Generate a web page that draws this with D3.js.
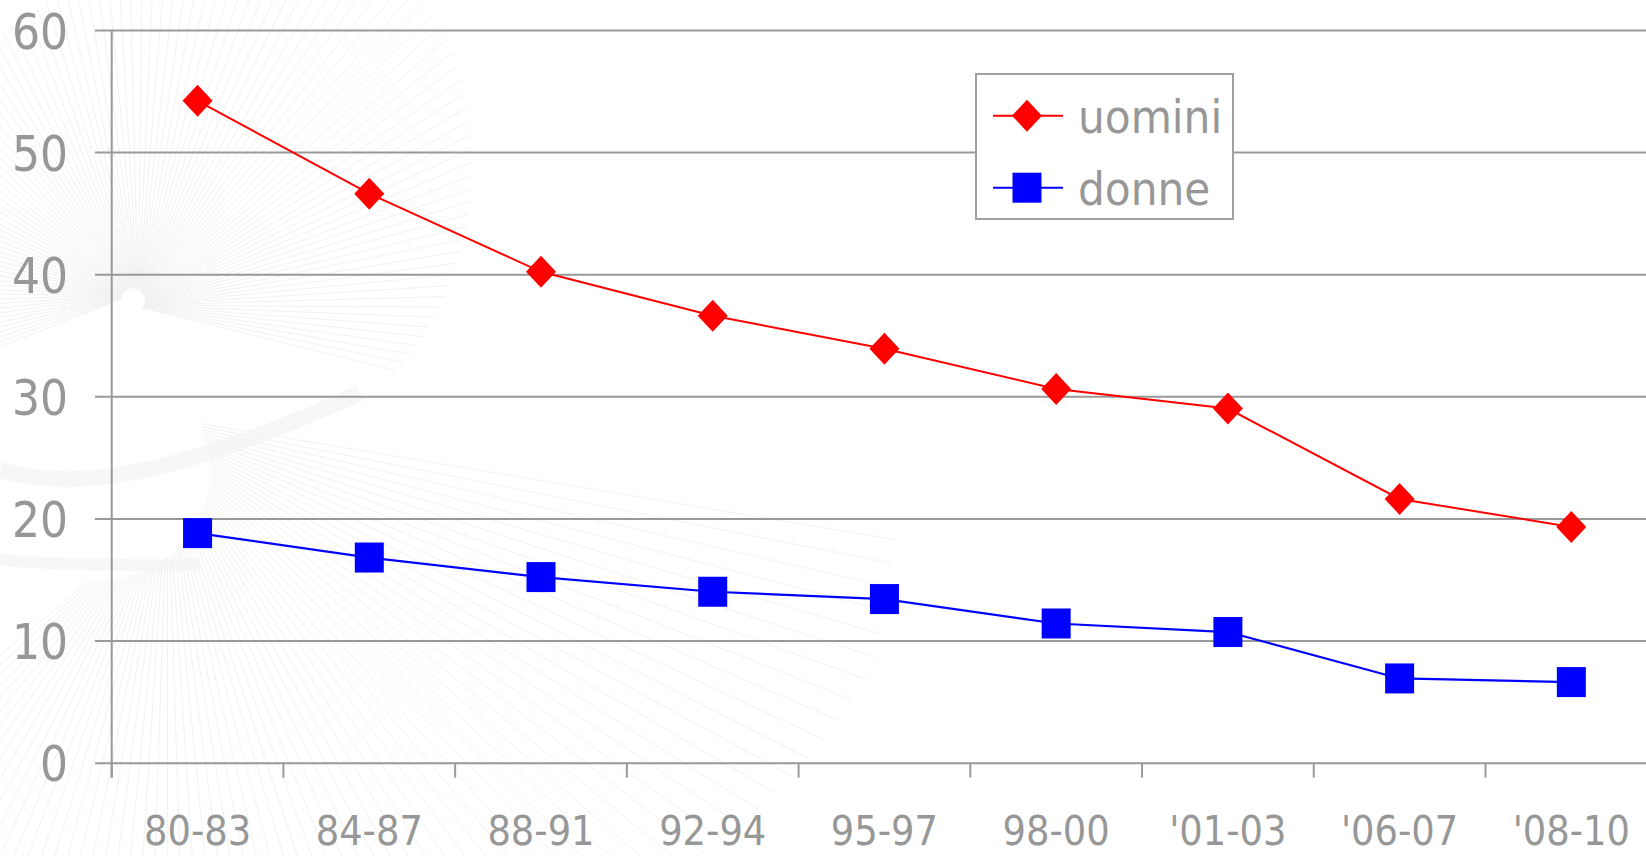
<!DOCTYPE html>
<html>
<head>
<meta charset="utf-8">
<script src="https://cdn.jsdelivr.net/npm/d3@7"></script>
<style>
  html, body { margin: 0; padding: 0; background: #ffffff; }
  svg { display: block; }
  text { font-family: "DejaVu Sans Condensed", "DejaVu Sans", sans-serif; fill: #979797; }
</style>
</head>
<body>
<svg id="chart" width="1646" height="856"></svg>
<script>
// ---- data ----
const categories = ["80-83", "84-87", "88-91", "92-94", "95-97", "98-00", "'01-03", "'06-07", "'08-10"];
const uomini = [54.2, 46.6, 40.2, 36.6, 33.9, 30.6, 29.0, 21.6, 19.3];
const donne  = [18.8, 16.8, 15.2, 14.0, 13.4, 11.4, 10.7, 6.9, 6.6];
const yTicks = [0, 10, 20, 30, 40, 50, 60];
const seriesNames = ["uomini", "donne"];
const seriesColors = ["#ff0000", "#0000ff"];

const W = 1646, H = 856;
const svg = d3.select("#chart");

// ---- decorative faint background pattern (string-art like) ----
const bg = svg.append("g").attr("fill", "none").attr("stroke", "#d4d4d4").attr("stroke-width", 1).attr("opacity", 0.3);
const rad = d => d * Math.PI / 180;
// upper fan around (133,300)
(function () {
  const cx = 133, cy = 300, n = 110;
  for (let i = 0; i <= n; i++) {
    const a = -200 + i * (215 / n);
    let r2;
    if (a <= -42) r2 = 415; else r2 = 415 - (a + 42) * (135 / 54);
    if (a < -90) r2 = 330 - (-90 - a) * 1.2;
    const s = a + 25;
    bg.append("line")
      .attr("x1", cx + 12 * Math.cos(rad(s))).attr("y1", cy + 12 * Math.sin(rad(s)))
      .attr("x2", cx + r2 * Math.cos(rad(a))).attr("y2", cy + r2 * Math.sin(rad(a)));
  }
})();
// lower fan around (100,470)
(function () {
  const cx = 100, cy = 470, n = 70;
  for (let i = 0; i <= n; i++) {
    const a = 5 + i * (120 / n);
    const r2 = a < 14.7 ? 797 : 797 - (a - 14.7) * 4.5;
    const s = a - 30;
    bg.append("line")
      .attr("x1", cx + 110 * Math.cos(rad(s))).attr("y1", cy + 110 * Math.sin(rad(s)))
      .attr("x2", cx + r2 * Math.cos(rad(a))).attr("y2", cy + r2 * Math.sin(rad(a)));
  }
})();
// soft band curves
svg.append("path")
  .attr("d", "M0,470 C80,495 190,470 360,393")
  .attr("fill", "none").attr("stroke", "#f2f2f2").attr("stroke-width", 16).attr("opacity", 0.6);
svg.append("path")
  .attr("d", "M0,560 C80,566 150,566 200,565")
  .attr("fill", "none").attr("stroke", "#f2f2f2").attr("stroke-width", 12).attr("opacity", 0.6);

// ---- scales ----
const x = d3.scaleBand().domain(categories).range([111.7, 1657.2]).paddingInner(0).paddingOuter(0);
const y = d3.scaleLinear().domain([0, 60]).range([762.7, 30]);
const cx = d => x(d) + x.bandwidth() / 2;

const gridColor = "#999999";

// ---- horizontal gridlines + y tick labels ----
const yAxis = d3.axisLeft(y).tickValues(yTicks).tickSize(-(W - 95)).tickFormat(d3.format("d"));
const gy = svg.append("g").attr("transform", "translate(95,0)").call(yAxis);
gy.select(".domain").remove();
gy.selectAll(".tick line").attr("stroke", gridColor).attr("stroke-width", 2);
gy.selectAll(".tick text")
  .attr("x", -27).attr("dy", null).attr("y", 18)
  .attr("font-size", 49).style("fill", "#979797")
  .attr("font-family", "DejaVu Sans Condensed, DejaVu Sans, sans-serif");

// ---- vertical axis line ----
svg.append("line")
  .attr("x1", x.range()[0]).attr("x2", x.range()[0])
  .attr("y1", y(60)).attr("y2", y(0) + 15)
  .attr("stroke", gridColor).attr("stroke-width", 2);

// ---- x axis ticks at category boundaries ----
const bounds = categories.map(c => x(c)).concat([x.range()[1]]);
svg.append("g").selectAll("line").data(bounds).join("line")
  .attr("x1", d => d).attr("x2", d => d)
  .attr("y1", y(0)).attr("y2", y(0) + 15)
  .attr("stroke", gridColor).attr("stroke-width", 2);

// x labels
svg.append("g").selectAll("text").data(categories).join("text")
  .attr("x", d => cx(d)).attr("y", 845)
  .attr("text-anchor", "middle").attr("font-size", 41)
  .text(d => d);

// ---- lines and markers ----
const line = d3.line().x((d, i) => cx(categories[i])).y(d => y(d));

svg.append("path").datum(uomini).attr("d", line)
  .attr("fill", "none").attr("stroke", seriesColors[0]).attr("stroke-width", 2);
svg.append("path").datum(donne).attr("d", line)
  .attr("fill", "none").attr("stroke", seriesColors[1]).attr("stroke-width", 2.2);

const diamond = (px, py) => `M${px},${py - 16}L${px + 15},${py}L${px},${py + 16}L${px - 15},${py}Z`;

svg.append("g").selectAll("path").data(uomini).join("path")
  .attr("d", (d, i) => diamond(cx(categories[i]), y(d)))
  .attr("fill", seriesColors[0]);

svg.append("g").selectAll("rect").data(donne).join("rect")
  .attr("x", (d, i) => cx(categories[i]) - 14.5).attr("y", d => y(d) - 15)
  .attr("width", 29).attr("height", 30)
  .attr("fill", seriesColors[1]);

// ---- legend ----
const lg = svg.append("g");
lg.append("rect").attr("x", 976).attr("y", 74).attr("width", 257).attr("height", 145)
  .attr("fill", "#ffffff").attr("stroke", "#a0a0a0").attr("stroke-width", 2);
const rows = [115.7, 187.7];
seriesNames.forEach((name, i) => {
  const ry = rows[i];
  lg.append("line").attr("x1", 993).attr("x2", 1063).attr("y1", ry).attr("y2", ry)
    .attr("stroke", seriesColors[i]).attr("stroke-width", 2);
  if (i === 0) {
    lg.append("path").attr("d", diamond(1027, ry)).attr("fill", seriesColors[i]);
  } else {
    lg.append("rect").attr("x", 1027 - 14.5).attr("y", ry - 15).attr("width", 29).attr("height", 30)
      .attr("fill", seriesColors[i]);
  }
  lg.append("text").attr("x", 1078).attr("y", ry + 17).attr("font-size", 47).text(name);
});
</script>
</body>
</html>
